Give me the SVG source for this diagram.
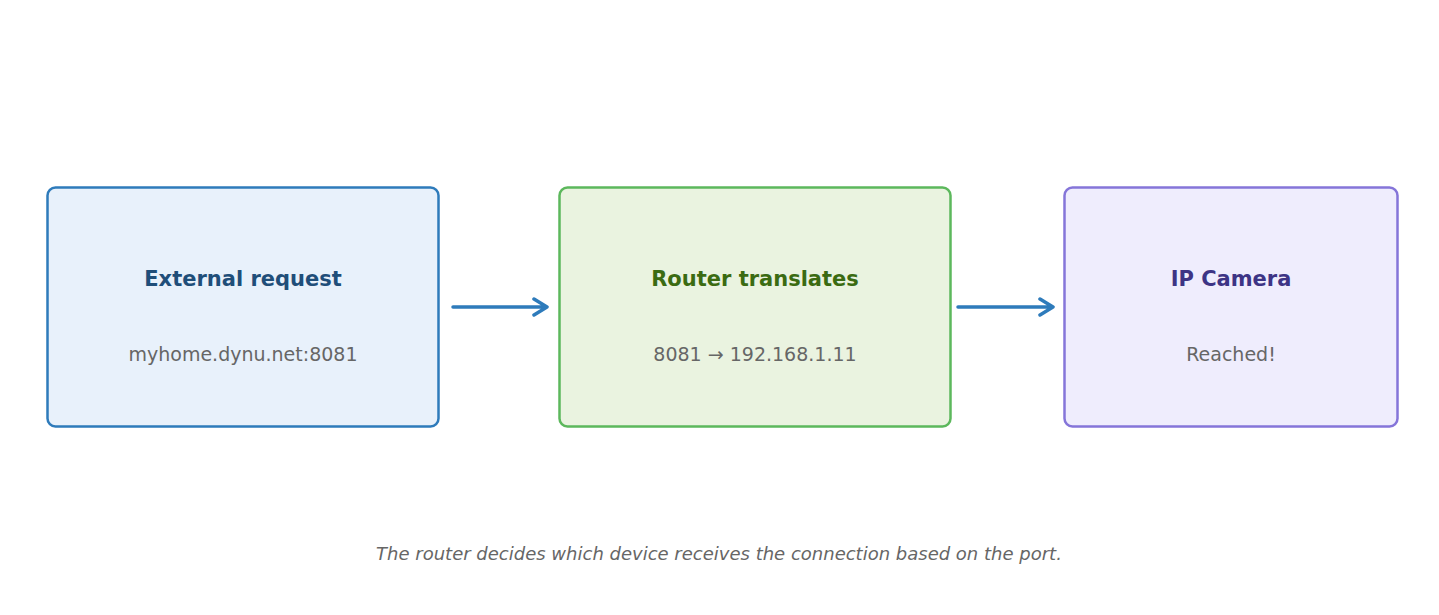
<svg xmlns="http://www.w3.org/2000/svg" width="1439" height="615" viewBox="0 0 1439 615">
<style>
.box{stroke-width:2.5}
.t{font-family:"DejaVu Sans",sans-serif;font-size:21px;font-weight:bold;text-anchor:middle}
.s{font-family:"DejaVu Sans",sans-serif;font-size:19px;fill:#666;text-anchor:middle}
.c{stroke:#2e7bbb;stroke-width:3.5;fill:none;stroke-linecap:round;stroke-linejoin:round}
</style>
<rect width="1439" height="615" fill="#fff"/>
<g id="n1"><rect class="box" x="47.5" y="187.5" width="391" height="239" rx="8" fill="#e8f1fb" stroke="#2e7bbb"/>
<text class="t" x="243" y="286" fill="#1f4e79">External request</text>
<text class="s" x="243" y="361">myhome.dynu.net:8081</text></g>
<g id="n2"><rect class="box" x="559.5" y="187.5" width="391" height="239" rx="8" fill="#eaf3e0" stroke="#5cb85c"/>
<text class="t" x="755" y="286" fill="#3b6b12">Router translates</text>
<text class="s" x="755" y="361">8081 → 192.168.1.11</text></g>
<g id="n3"><rect class="box" x="1064.5" y="187.5" width="333" height="239" rx="8" fill="#efedfd" stroke="#8575d9"/>
<text class="t" x="1231" y="286" fill="#3d3485">IP Camera</text>
<text class="s" x="1231" y="361">Reached!</text></g>
<g id="connectors">
<path class="c" d="M453 307H547M534 299L547 307L534 315"/>
<path class="c" d="M958 307H1053M1040 299L1053 307L1040 315"/>
</g>
<text x="719" y="560" font-family="DejaVu Sans,sans-serif" font-size="18" font-style="italic" fill="#666" text-anchor="middle">The router decides which device receives the connection based on the port.</text>
</svg>
